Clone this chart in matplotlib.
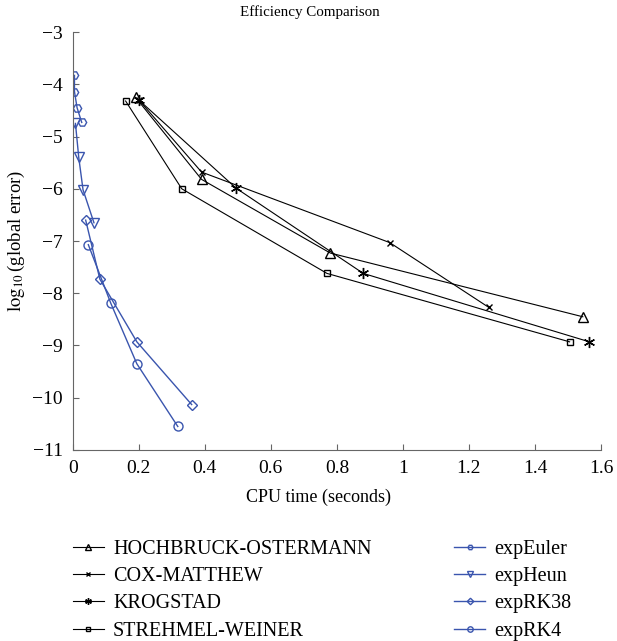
import numpy as np
from matplotlib import pyplot as plt
from matplotlib import rc

rc('font', family='serif', serif=['Liberation Serif'])
rc('mathtext', fontset='stix')
rc('axes', unicode_minus=True)

# Black methods: CPU time (s), log10(global error)
ho_t = [0.19, 0.39, 0.78, 1.545]
ho_e = [-4.25, -5.82, -7.23, -8.45]
cm_t = [0.20, 0.39, 0.96, 1.26]
cm_e = [-4.30, -5.68, -7.03, -8.27]
kr_t = [0.20, 0.495, 0.88, 1.565]
kr_e = [-4.30, -5.99, -7.62, -8.93]
sw_t = [0.16, 0.33, 0.77, 1.505]
sw_e = [-4.32, -6.00, -7.62, -8.93]

# Blue methods
eu_t = [0.005, 0.005, 0.013, 0.027]
eu_e = [-3.83, -4.14, -4.45, -4.73]
he_t = [0.008, 0.018, 0.031, 0.064]
he_e = [-4.75, -5.40, -6.02, -6.65]
r38_t = [0.039, 0.082, 0.194, 0.36]
r38_e = [-6.60, -7.73, -8.93, -10.13]
rk4_t = [0.047, 0.115, 0.194, 0.318]
rk4_e = [-7.07, -8.19, -9.35, -10.55]

blue = '#3a55ae'
fig = plt.figure(figsize=(6.17, 6.41), dpi=100)
ax = fig.add_axes([0.118, 0.298, 0.856, 0.652])

ast = (6, 2, 0)
ax.plot(ho_t, ho_e, c='k', lw=0.8, marker='^', ms=7, mfc='none', label='HOCHBRUCK-OSTERMANN')
ax.plot(cm_t, cm_e, c='k', lw=0.8, marker='x', ms=5, label='COX-MATTHEW')
ax.plot(kr_t, kr_e, c='k', lw=0.8, marker=ast, ms=8, label='KROGSTAD')
ax.plot(sw_t, sw_e, c='k', lw=0.8, marker='s', ms=5, mfc='none', label='STREHMEL-WEINER')
ax.plot(eu_t, eu_e, c=blue, lw=1, marker='H', ms=6, mfc='none', label='expEuler')
ax.plot(he_t, he_e, c=blue, lw=1, marker='v', ms=7, mfc='none', label='expHeun')
ax.plot(r38_t, r38_e, c=blue, lw=1, marker='D', ms=5.5, mfc='none', label='expRK38')
ax.plot(rk4_t, rk4_e, c=blue, lw=1, marker='o', ms=6.5, mfc='none', label='expRK4')

ax.set_xlim(0, 1.6)
ax.set_ylim(-11, -3)
ax.set_xticks([0, 0.2, 0.4, 0.6, 0.8, 1, 1.2, 1.4, 1.6])
ax.set_xticklabels(['0', '0.2', '0.4', '0.6', '0.8', '1', '1.2', '1.4', '1.6'])
ax.set_yticks(np.arange(-11, -2, 1))
for s in ['top', 'right']:
    ax.spines[s].set_visible(False)
for s in ['left', 'bottom']:
    ax.spines[s].set_color('#666666')
ax.tick_params(direction='in', length=4, color='#666666', labelsize=14, pad=7)

fig.text(0.503, 0.981, 'Efficiency Comparison', fontsize=10.8, ha='center', va='center')
ax.set_xlabel('CPU time (seconds)', fontsize=13)
ax.xaxis.set_label_coords(0.465, -0.093)
ax.set_ylabel(r'$\log_{10}$(global error)', fontsize=13.5)
ax.yaxis.set_label_coords(-0.087, 0.5)

fig.legend(loc='upper left', bbox_to_anchor=(0.105, 0.17), ncol=2, frameon=False,
           fontsize=14.5, handlelength=1.55, handletextpad=0.45, columnspacing=4.1,
           labelspacing=0.4, borderaxespad=0, markerscale=0.6)
plt.savefig('out.png', dpi=100)
